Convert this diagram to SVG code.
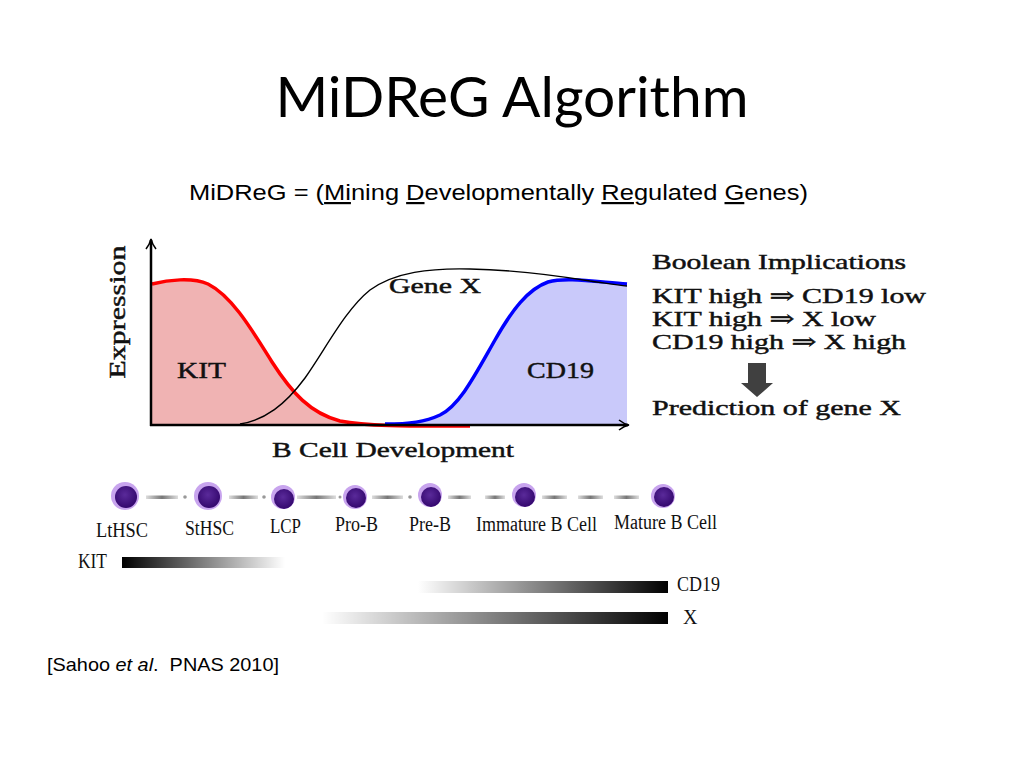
<svg xmlns="http://www.w3.org/2000/svg" width="1024" height="768" viewBox="0 0 1024 768">
<defs>
<style>
.title{font-family:"Lato","Open Sans","Liberation Sans",sans-serif;font-size:56px;fill:#000}
.sans{font-family:"Liberation Sans",Arial,sans-serif;fill:#000;white-space:pre}
.cm{font-family:"Liberation Serif","DejaVu Serif",serif;fill:#111;stroke:#111;stroke-width:0.45}
.tm{font-family:"Liberation Serif","Times New Roman",serif;fill:#111;font-size:20px}
.link{fill:url(#lnk)}
.dot{fill:#999}
.halo{fill:#c8a4ee}
.core{fill:url(#core)}
</style>
<radialGradient id="core" cx="0.45" cy="0.4" r="0.6">
<stop offset="0" stop-color="#5a2a9a"/>
<stop offset="1" stop-color="#34086e"/>
</radialGradient>
<linearGradient id="lnk" x1="0" y1="0" x2="1" y2="0">
<stop offset="0" stop-color="#ddd"/>
<stop offset="0.5" stop-color="#777"/>
<stop offset="1" stop-color="#ddd"/>
</linearGradient>
<linearGradient id="gKit" x1="0" y1="0" x2="1" y2="0">
<stop offset="0" stop-color="#000"/>
<stop offset="1" stop-color="#000" stop-opacity="0"/>
</linearGradient>
<linearGradient id="gRise" x1="0" y1="0" x2="1" y2="0">
<stop offset="0" stop-color="#000" stop-opacity="0"/>
<stop offset="1" stop-color="#000"/>
</linearGradient>
<marker id="ahBig" viewBox="0 0 12 12" refX="10" refY="6" markerWidth="12" markerHeight="12" orient="auto" markerUnits="userSpaceOnUse">
<path d="M1,1 Q6,5 11,6 Q6,7 1,11" fill="none" stroke="#000" stroke-width="1.6"/>
</marker>
</defs>
<rect width="1024" height="768" fill="#fff"/>

<text class="title" x="512" y="117" text-anchor="middle" textLength="473" lengthAdjust="spacingAndGlyphs">MiDReG Algorithm</text>

<text class="sans" x="189" y="200" font-size="22" textLength="619" lengthAdjust="spacingAndGlyphs">MiDReG = (<tspan text-decoration="underline">Mi</tspan>ning <tspan text-decoration="underline">D</tspan>evelopmentally <tspan text-decoration="underline">Re</tspan>gulated <tspan text-decoration="underline">G</tspan>enes)</text>

<g id="plot">
<path d="M152,284 C168,280 192,277 208,284 C232,296 252,330 272,362 C292,393 310,413 340,421 C360,425 380,425 400,425 L152,425 Z" fill="#f0b3b3"/>
<path d="M385,425 C410,424 425,422 440,415 C460,405 475,375 495,340 C512,310 528,289 548,282 C565,277 590,281 627,284 L627,425 Z" fill="#c9c9fa"/>
<path d="M152,284 C168,280 192,277 208,284 C232,296 252,330 272,362 C292,393 310,413 340,421 C370,427 420,426 470,426" fill="none" stroke="#f00" stroke-width="3.5"/>
<path d="M385,424 C410,424 425,422 440,415 C460,405 475,375 495,340 C512,310 528,289 548,282 C565,277 590,281 627,284" fill="none" stroke="#00f" stroke-width="3.5"/>
<path d="M240,424 C265,420 285,405 305,378 C325,350 345,310 370,290 C395,272 430,268 470,269 C520,270 560,276 590,281 C605,283 615,285 627,286" fill="none" stroke="#000" stroke-width="1.4"/>
<line x1="151" y1="426" x2="151" y2="240" stroke="#000" stroke-width="2.5" marker-end="url(#ahBig)"/>
<line x1="150" y1="425" x2="628" y2="425" stroke="#000" stroke-width="2.5" marker-end="url(#ahBig)"/>
<text class="cm" x="0" y="0" font-size="23" transform="translate(125,312) rotate(-90)" text-anchor="middle" textLength="133" lengthAdjust="spacingAndGlyphs">Expression</text>
<text class="cm" x="177" y="378" font-size="24" textLength="49" lengthAdjust="spacingAndGlyphs">KIT</text>
<text class="cm" x="527" y="378" font-size="24" textLength="67" lengthAdjust="spacingAndGlyphs">CD19</text>
<text class="cm" x="389" y="293" font-size="21" textLength="92" lengthAdjust="spacingAndGlyphs">Gene X</text>
<text class="cm" x="272" y="457" font-size="22" textLength="242" lengthAdjust="spacingAndGlyphs">B Cell Development</text>
</g>

<g id="implications">
<text class="cm" x="652" y="269" font-size="21" textLength="254" lengthAdjust="spacingAndGlyphs">Boolean Implications</text>
<text class="cm" x="652" y="303" font-size="22" textLength="274" lengthAdjust="spacingAndGlyphs">KIT high ⇒ CD19 low</text>
<text class="cm" x="652" y="326" font-size="22" textLength="224" lengthAdjust="spacingAndGlyphs">KIT high ⇒ X low</text>
<text class="cm" x="652" y="349" font-size="22" textLength="254" lengthAdjust="spacingAndGlyphs">CD19 high ⇒ X high</text>
<path d="M748,363 L766,363 L766,383 L773,383 L757,397 L741,383 L748,383 Z" fill="#404040"/>
<text class="cm" x="652" y="415" font-size="22" textLength="249" lengthAdjust="spacingAndGlyphs">Prediction of gene X</text>
</g>

<g id="connectors">
<rect class="link" x="146" y="495.5" width="32" height="3.5"/>
<circle class="dot" cx="185" cy="497" r="1.8"/>
<rect class="link" x="229" y="495.5" width="29" height="3.5"/>
<circle class="dot" cx="264" cy="497" r="1.8"/>
<rect class="link" x="297" y="495.5" width="39" height="3.5"/>
<circle class="dot" cx="340" cy="497" r="1.5"/>
<rect class="link" x="372" y="495.5" width="31" height="3.5"/>
<circle class="dot" cx="410" cy="497" r="1.8"/>
<rect class="link" x="448" y="495.5" width="23" height="3.5"/>
<rect class="link" x="485" y="495.5" width="20" height="3.5"/>
<rect class="link" x="542" y="495.5" width="25" height="3.5"/>
<rect class="link" x="578" y="495.5" width="25" height="3.5"/>
<rect class="link" x="614" y="495.5" width="25" height="3.5"/>
</g>

<g id="cell-lthsc"><circle class="halo" cx="125" cy="496" r="14"/><circle class="core" cx="126" cy="497" r="11"/><text class="tm" x="96" y="537" textLength="52" lengthAdjust="spacingAndGlyphs">LtHSC</text></g>
<g id="cell-sthsc"><circle class="halo" cx="208" cy="496" r="14"/><circle class="core" cx="209" cy="497" r="11"/><text class="tm" x="185" y="535" textLength="49" lengthAdjust="spacingAndGlyphs">StHSC</text></g>
<g id="cell-lcp"><circle class="halo" cx="283" cy="497" r="12"/><circle class="core" cx="284" cy="499" r="10"/><text class="tm" x="270" y="533" textLength="31" lengthAdjust="spacingAndGlyphs">LCP</text></g>
<g id="cell-prob"><circle class="halo" cx="355" cy="497" r="12"/><circle class="core" cx="356" cy="498" r="10"/><text class="tm" x="335" y="531" textLength="43" lengthAdjust="spacingAndGlyphs">Pro-B</text></g>
<g id="cell-preb"><circle class="halo" cx="430" cy="495" r="12"/><circle class="core" cx="431" cy="497" r="10"/><text class="tm" x="409" y="531" textLength="42" lengthAdjust="spacingAndGlyphs">Pre-B</text></g>
<g id="cell-immature"><circle class="halo" cx="524" cy="495" r="12"/><circle class="core" cx="525" cy="497" r="10"/><text class="tm" x="476" y="531" textLength="121" lengthAdjust="spacingAndGlyphs">Immature B Cell</text></g>
<g id="cell-mature"><circle class="halo" cx="663" cy="496" r="12"/><circle class="core" cx="664" cy="497" r="10"/><text class="tm" x="614" y="529" textLength="103" lengthAdjust="spacingAndGlyphs">Mature B Cell</text></g>

<g id="bars">
<text class="tm" x="78" y="568" font-size="17" textLength="29" lengthAdjust="spacingAndGlyphs">KIT</text>
<rect x="122" y="557" width="163" height="11" fill="url(#gKit)"/>
<rect x="418" y="581" width="250" height="12" fill="url(#gRise)"/>
<text class="tm" x="677" y="591" font-size="17" textLength="43" lengthAdjust="spacingAndGlyphs">CD19</text>
<rect x="322" y="612" width="346" height="12" fill="url(#gRise)"/>
<text class="tm" x="683" y="624" font-size="17">X</text>
</g>

<text class="sans" x="47" y="671" font-size="19" textLength="232" lengthAdjust="spacingAndGlyphs">[Sahoo <tspan font-style="italic">et al</tspan>.  PNAS 2010]</text>
</svg>
